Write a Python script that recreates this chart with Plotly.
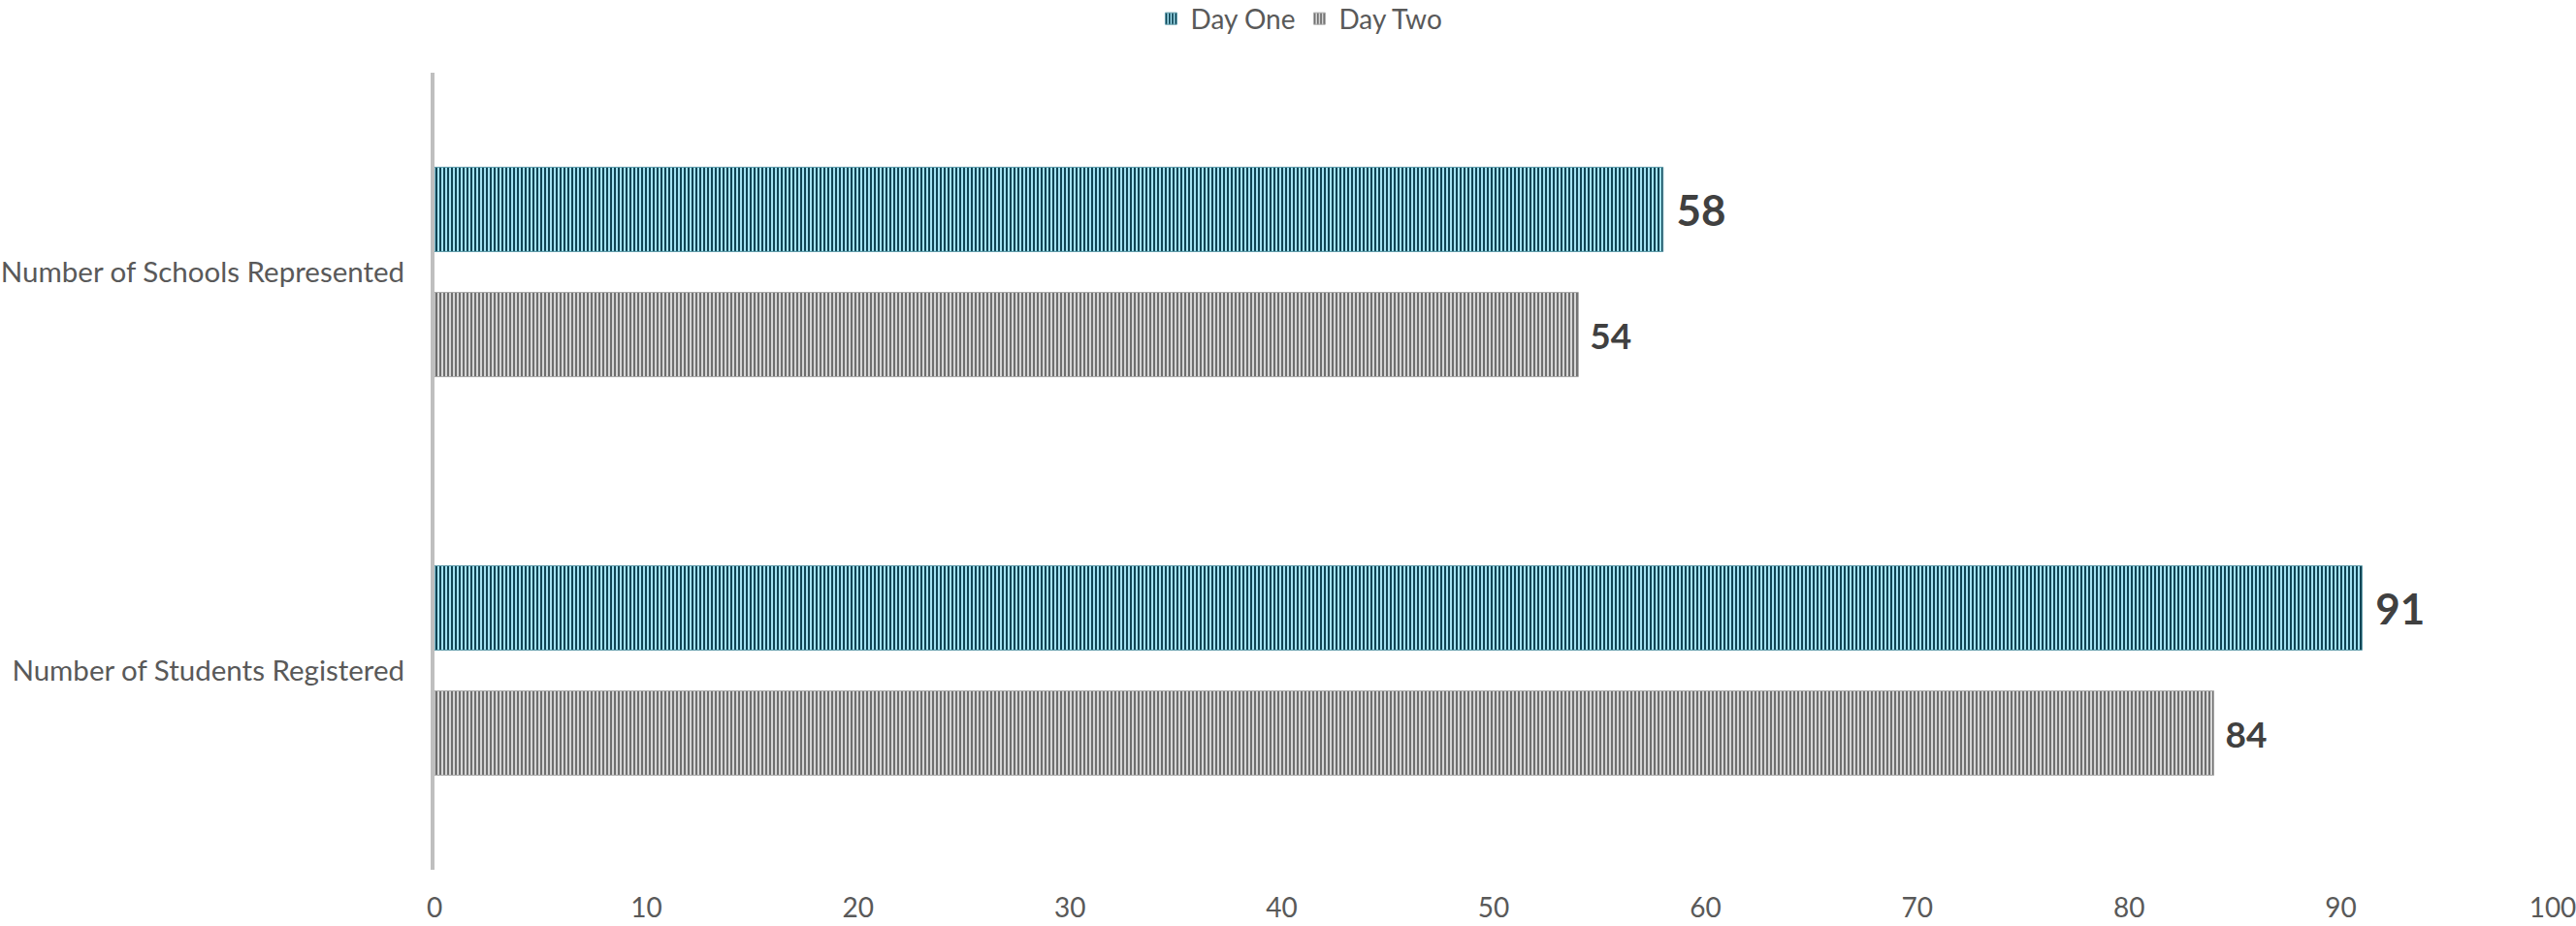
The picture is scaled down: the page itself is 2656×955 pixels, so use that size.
import plotly.graph_objects as go

categories = ["Number of Schools Represented", "Number of Students Registered"]
series_names = ["Day One", "Day Two"]
day_one = [58, 91]
day_two = [54, 84]
x_ticks = [0, 10, 20, 30, 40, 50, 60, 70, 80, 90, 100]

FONT = "Lato, Carlito, Calibri, sans-serif"

styles = [
    dict(fg="#0f4454", bg="#a3e2f2", line="#5e9aa9", label_size=44),
    dict(fg="#6f6f6f", bg="#d6d6d6", line="#a9a9a9", label_size=37),
]

fig = go.Figure()
for name, vals, st in zip(series_names, [day_one, day_two], styles):
    fig.add_trace(go.Bar(
        name=name,
        y=categories,
        x=vals,
        orientation="h",
        marker=dict(
            color=st["bg"],
            pattern=dict(shape="|", fgcolor=st["fg"], bgcolor=st["bg"],
                         size=4, solidity=0.5, fillmode="replace"),
            line=dict(color=st["line"], width=1),
        ),
        text=["\u00a0" + str(v) for v in vals],
        textposition="outside",
        textfont=dict(family=FONT, size=st["label_size"], color="#404040",
                      weight="bold"),
        cliponaxis=False,
    ))

fig.update_layout(
    width=2656, height=955,
    margin=dict(l=448, r=24, t=75, b=58, autoexpand=False),
    paper_bgcolor="white", plot_bgcolor="white",
    barmode="group", bargap=0.372, bargroupgap=0.326,
    showlegend=True,
    legend=dict(orientation="h", xref="container", x=0.5045, xanchor="center",
                y=1.098, yanchor="top",
                font=dict(family=FONT, size=28, color="#595959"),
                itemwidth=30, traceorder="normal"),
    font=dict(family=FONT, color="#595959"),
)
fig.update_xaxes(
    range=[0, 100], tickvals=x_ticks, showgrid=False, zeroline=False,
    showline=False, ticks="", tickfont=dict(family=FONT, size=28, color="#595959"),
    ticklabelstandoff=20, automargin=False, ticklabeloverflow="allow",
)
fig.update_yaxes(
    autorange="reversed", showgrid=False, zeroline=False,
    showline=True, linecolor="#bfbfbf", linewidth=4, ticks="",
    tickfont=dict(family=FONT, size=29.5, color="#595959"),
    ticklabelstandoff=21, automargin=False,
)

fig.write_html("out.html")
